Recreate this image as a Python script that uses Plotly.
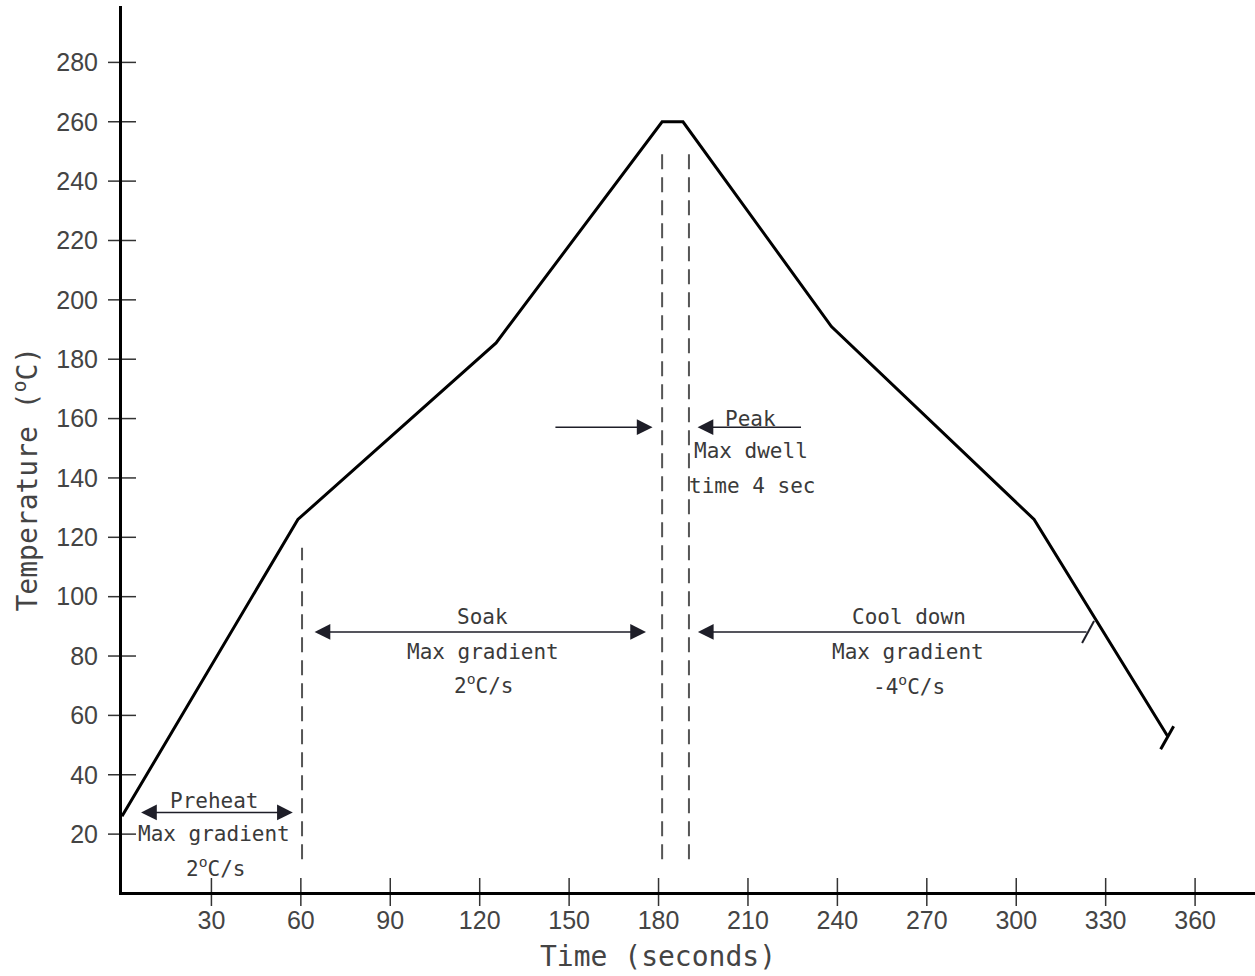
import plotly.graph_objects as go

# ---- data ----
time_s = [0, 59, 125.5, 181.2, 188.2, 238, 306, 350.8]
temp_c = [26, 126, 185.5, 260, 260, 191, 126, 53]

x_ticks = [30, 60, 90, 120, 150, 180, 210, 240, 270, 300, 330, 360]
y_ticks = [20, 40, 60, 80, 100, 120, 140, 160, 180, 200, 220, 240, 260, 280]

# phase boundaries (dashed verticals): x, y_from, y_to
boundary_x = [60.4, 181.2, 190.2]
boundary_y0 = [11.5, 11.5, 11.5]
boundary_y1 = [116.5, 250.5, 250.5]

# arrows: (tail_x, tail_y, head_x, head_y, side)
arrows = [
    (57.8, 27.3, 6.4, 27.3, "end+start"),     # preheat
    (64.1, 88.1, 175.8, 88.1, "end+start"),   # soak
    (144.9, 157.1, 178.0, 157.1, "end"),      # peak left
    (228.3, 157.1, 193.1, 157.1, "end"),      # peak right
    (324.1, 88.1, 193.2, 88.1, "end"),        # cool down
]

# labels: (text, x, y)
labels = [
    ("Preheat", 30.9, 31.2),
    ("Max gradient", 30.9, 20.0),
    ("2<sup>o</sup>C/s", 31.5, 8.9),
    ("Soak", 121.1, 93.1),
    ("Max gradient", 121.1, 81.3),
    ("2<sup>o</sup>C/s", 121.4, 70.5),
    ("Peak", 211.0, 159.7),
    ("Max dwell", 211.0, 149.0),
    ("time 4 sec", 211.3, 137.3),
    ("Cool down", 264.0, 93.1),
    ("Max gradient", 263.7, 81.3),
    ("-4<sup>o</sup>C/s", 264.0, 70.2),
]

MONO = "DejaVu Sans Mono"
TXT = "#3a3a3a"

fig = go.Figure()

# dashed boundaries
bx, by = [], []
for x, a, b in zip(boundary_x, boundary_y0, boundary_y1):
    bx += [x, x, None]
    by += [a, b, None]
fig.add_trace(go.Scatter(x=bx, y=by, mode="lines",
                         line=dict(color="#555555", width=2, dash="15px,8px"),
                         hoverinfo="skip", showlegend=False))

# profile curve
fig.add_trace(go.Scatter(x=time_s, y=temp_c, mode="lines",
                         line=dict(color="#000000", width=3),
                         showlegend=False))

# crossing tick marks
fig.add_trace(go.Scatter(x=[0] * len(y_ticks), y=y_ticks, mode="markers",
                         marker=dict(symbol="line-ew", size=20,
                                     line=dict(color="#333333", width=1.5)),
                         cliponaxis=False, hoverinfo="skip", showlegend=False))
fig.add_trace(go.Scatter(x=x_ticks, y=[0.5] * len(x_ticks), mode="markers",
                         marker=dict(symbol="line-ns", size=20,
                                     line=dict(color="#333333", width=1.5)),
                         cliponaxis=False, hoverinfo="skip", showlegend=False))

annotations = []
for tx, ty, hx, hy, side in arrows:
    annotations.append(dict(
        x=hx, y=hy, ax=tx, ay=ty, xref="x", yref="y", axref="x", ayref="y",
        text="", showarrow=True, arrowhead=2, startarrowhead=2,
        arrowside=side, arrowsize=2.1, startarrowsize=2.1, arrowwidth=1.5,
        arrowcolor="#1e1e28", standoff=0, startstandoff=0))

for text, x, y in labels:
    annotations.append(dict(
        x=x, y=y, xref="x", yref="y", text=text, showarrow=False,
        xanchor="center", yanchor="middle",
        font=dict(family=MONO, size=21, color=TXT)))

# axis titles
annotations.append(dict(
    x=0.4727, y=-0.0733, xref="paper", yref="paper", text="Time (seconds)",
    showarrow=False, xanchor="center", yanchor="middle",
    font=dict(family=MONO, size=28, color="#444444")))
annotations.append(dict(
    x=-0.0847, y=0.4656, xref="paper", yref="paper",
    text="Temperature (<sup>o</sup>C)", textangle=-90,
    showarrow=False, xanchor="center", yanchor="middle",
    font=dict(family=MONO, size=28, color="#444444")))

# end caps
shapes = [
    dict(type="line", xref="x", yref="y", xsizemode="pixel", ysizemode="pixel",
         xanchor=time_s[-1], yanchor=temp_c[-1], x0=-7, y0=-13, x1=6, y1=10,
         line=dict(color="#000000", width=3)),
    dict(type="line", xref="x", yref="y", xsizemode="pixel", ysizemode="pixel",
         xanchor=arrows[4][0], yanchor=arrows[4][1], x0=-6, y0=-11, x1=6, y1=11,
         line=dict(color="#1e1e28", width=2)),
]

fig.update_layout(
    template="none",
    width=1255, height=976,
    margin=dict(l=122, r=0, t=6, b=84, pad=0, autoexpand=False),
    plot_bgcolor="white", paper_bgcolor="white",
    annotations=annotations, shapes=shapes,
    showlegend=False,
)
fig.update_xaxes(range=[0, 380.1], showgrid=False, zeroline=False, automargin=False,
                 showline=True, linecolor="#000000", linewidth=3,
                 tickvals=x_ticks, ticks="", ticklabelstandoff=4,
                 tickfont=dict(family="Liberation Sans", size=25, color="#444444"))
fig.update_yaxes(range=[0.5, 299], showgrid=False, zeroline=False, automargin=False,
                 showline=True, linecolor="#000000", linewidth=3,
                 tickvals=y_ticks, ticks="", ticklabelstandoff=16,
                 tickfont=dict(family="Liberation Sans", size=25, color="#444444"))

fig.write_html("out.html",
               config={"displayModeBar": False},
               post_script="document.body.style.margin='0px';"
                           "document.body.style.overflow='hidden';")
